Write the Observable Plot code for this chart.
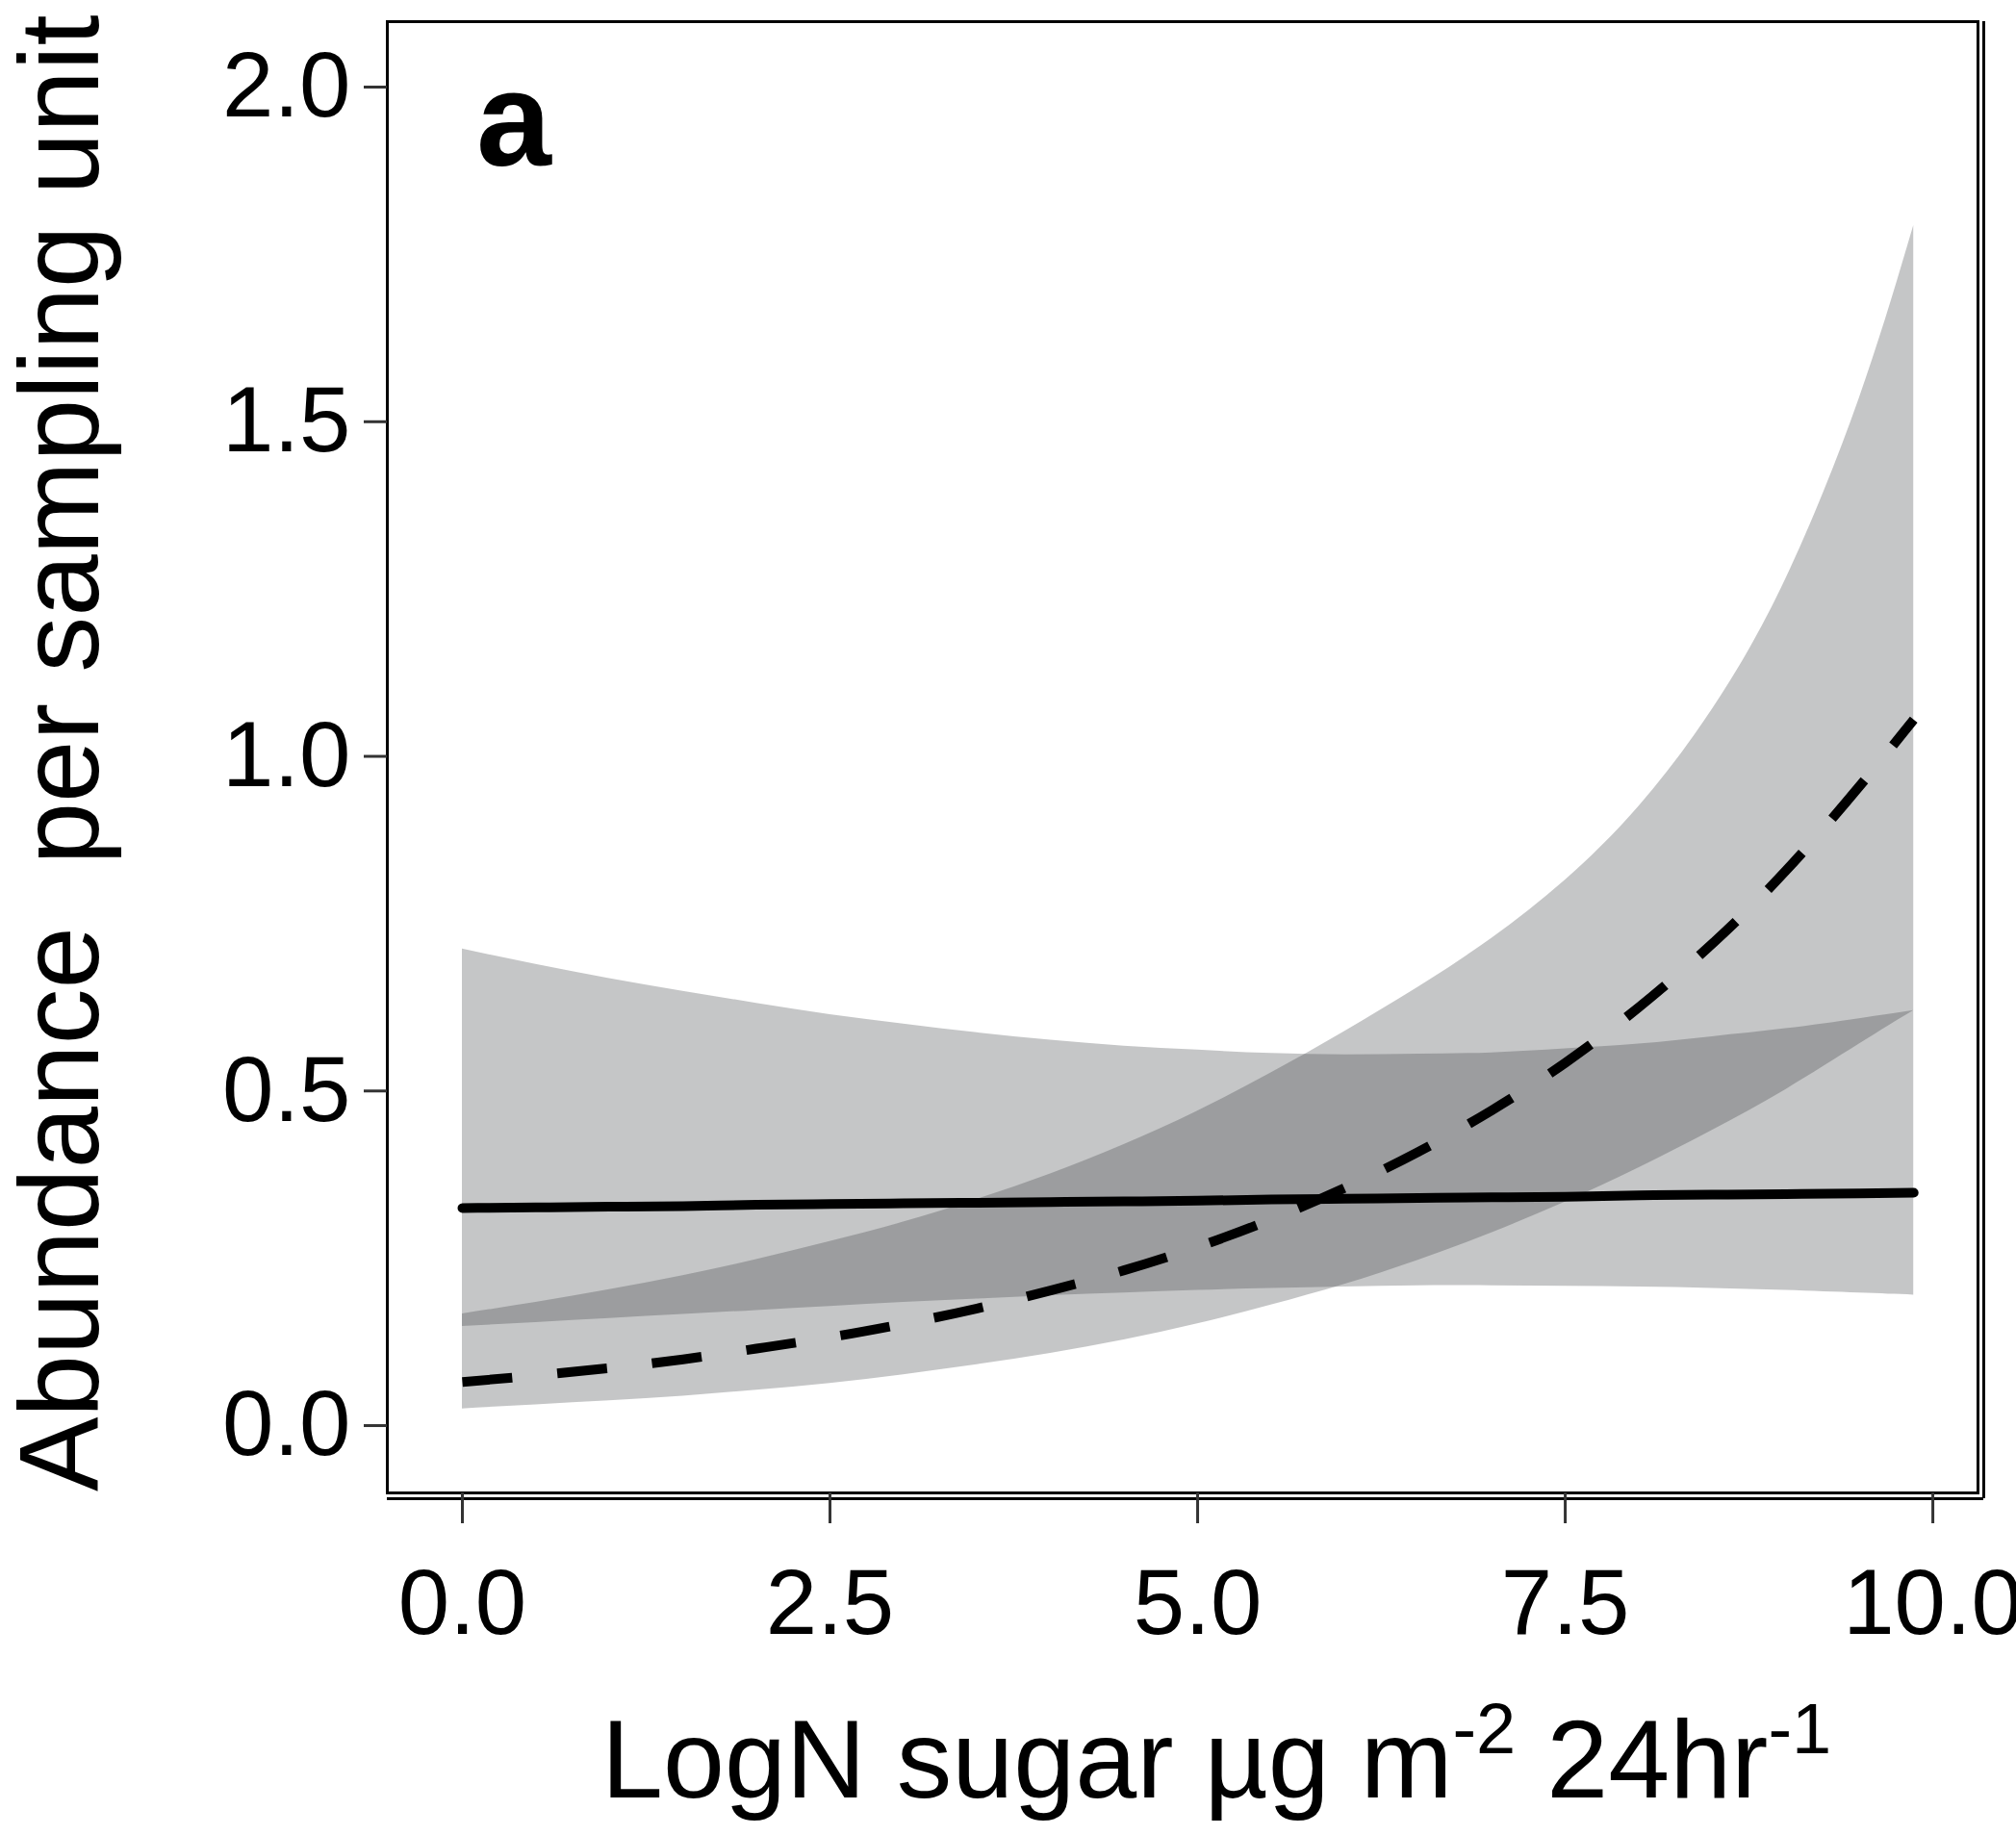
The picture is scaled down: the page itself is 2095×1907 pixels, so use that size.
<!DOCTYPE html>
<html><head><meta charset="utf-8">
<script src="https://cdn.jsdelivr.net/npm/d3@7"></script>
<script src="https://cdn.jsdelivr.net/npm/@observablehq/plot@0.6"></script>
<style>
html,body{margin:0;padding:0;background:#fff;overflow:hidden}
svg{display:block;font-family:"Liberation Sans",Arial,Helvetica,sans-serif}
</style>
</head><body><div id="chart"></div>
<script>
// x: LogN sugar
const sugar = [0,0.5,1,1.5,2,2.5,3,3.5,4,4.5,5,5.5,6,6.5,7,7.5,8,8.5,9,9.5,9.87];
// solid line (flat) and its confidence band
const solidFit   = [0.325,0.326,0.327,0.328,0.330,0.331,0.332,0.333,0.334,0.335,0.336,0.338,0.339,0.340,0.341,0.342,0.344,0.345,0.346,0.347,0.348];
const solidUpper = [0.712,0.689,0.668,0.649,0.631,0.614,0.600,0.587,0.576,0.567,0.561,0.556,0.554,0.555,0.557,0.563,0.570,0.581,0.593,0.608,0.620];
const solidLower = [0.148,0.154,0.160,0.166,0.172,0.178,0.184,0.189,0.194,0.198,0.202,0.205,0.207,0.209,0.209,0.208,0.207,0.205,0.202,0.198,0.195];
// dashed line (rising) and its confidence band
const dashFit    = [0.065,0.075,0.086,0.099,0.115,0.132,0.152,0.175,0.202,0.232,0.267,0.308,0.355,0.409,0.471,0.542,0.625,0.720,0.829,0.955,1.055];
const dashUpper  = [0.167,0.184,0.203,0.224,0.248,0.275,0.304,0.338,0.376,0.420,0.470,0.527,0.589,0.655,0.728,0.815,0.925,1.070,1.265,1.535,1.793];
const dashLower  = [0.025,0.031,0.037,0.044,0.053,0.063,0.076,0.091,0.108,0.128,0.152,0.180,0.211,0.247,0.288,0.334,0.385,0.441,0.502,0.570,0.620];
// ticks
const xTicks = [0,2.5,5,7.5,10];
const yTicks = [0,0.5,1,1.5,2];
const xDomain = [-0.5105,10.307];
const yDomain = [-0.1006,2.0978];

const rows = sugar.map((x,i)=>({x, sF:solidFit[i], sU:solidUpper[i], sL:solidLower[i], dF:dashFit[i], dU:dashUpper[i], dL:dashLower[i]}));

const W=2095, H=1907;
const band = {fill:"#363a3e", fillOpacity:0.29, curve:"natural"};
const svg = Plot.plot({
  width:W, height:H,
  marginLeft:402, marginTop:22, marginRight:40, marginBottom:356,
  style:{background:"#fff", color:"#000", fontFamily:"Liberation Sans, Arial, sans-serif"},
  x:{domain:xDomain},
  y:{domain:yDomain},
  marks:[
    Plot.areaY(rows,{x:"x", y1:"sL", y2:"sU", ...band}),
    Plot.areaY(rows,{x:"x", y1:"dL", y2:"dU", ...band}),
    Plot.line(rows,{x:"x", y:"sF", stroke:"#000", strokeWidth:10, curve:"natural"}),
    Plot.line(rows,{x:"x", y:"dF", stroke:"#000", strokeWidth:10, strokeDasharray:"52,47", curve:"natural", strokeLinecap:"butt"}),
    Plot.frame({stroke:"#000", strokeWidth:3}),
    Plot.ruleY([yDomain[0]],{dy:6, stroke:"#000", strokeWidth:3, insetRight:-6}),
    Plot.ruleX([xDomain[1]],{dx:6, stroke:"#000", strokeWidth:3, insetBottom:-6}),
    Plot.axisX({ticks:xTicks, tickFormat:d=>d.toFixed(1), tickSize:32, tickPadding:46, fontSize:96, label:null, stroke:"#333", strokeWidth:3}),
    Plot.axisY({ticks:yTicks, tickFormat:d=>d.toFixed(1), tickSize:24, tickPadding:14, fontSize:96, label:null, stroke:"#333", strokeWidth:3})
  ]
});
document.getElementById("chart").appendChild(svg);

const s = d3.select(svg);
s.append("text")
  .attr("transform","translate(102,1550) rotate(-90)")
  .attr("text-anchor","start")
  .attr("font-size",116).attr("fill","#000")
  .style("white-space","pre")
  .text("Abundance  per sampling unit");

const xt = s.append("text").attr("x",625).attr("y",1868).attr("text-anchor","start")
  .attr("font-size",115).attr("fill","#000").style("white-space","pre");
xt.append("tspan").text("LogN sugar µg m");
xt.append("tspan").attr("font-size",74).attr("dy",-46).text("-2");
xt.append("tspan").attr("dy",46).text(" 24hr");
xt.append("tspan").attr("font-size",74).attr("dy",-46).text("-1");

s.append("text").attr("x",495).attr("y",172).attr("text-anchor","start")
  .attr("font-size",140).attr("font-weight","bold").attr("fill","#000").text("a");
</script>
</body></html>
